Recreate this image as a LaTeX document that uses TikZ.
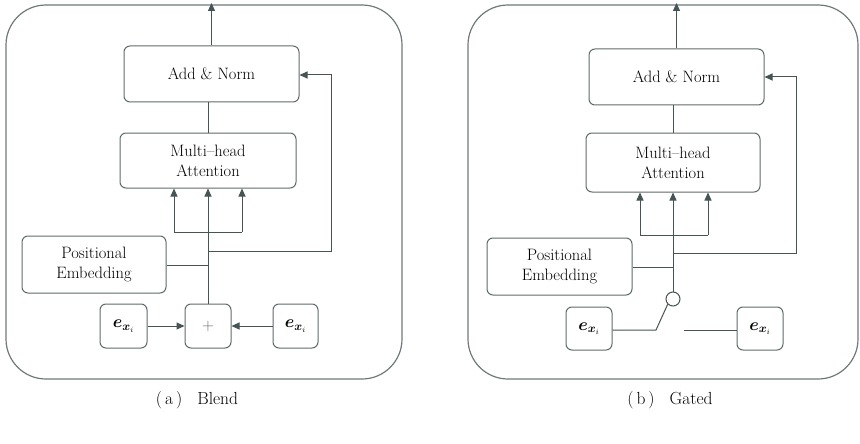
\documentclass[tikz,border=0pt]{standalone}
\usepackage{amsmath}
\usepackage{bm}
\usetikzlibrary{arrows.meta}
\definecolor{boxc}{HTML}{5E6B6B}
\definecolor{linec}{HTML}{465454}
\definecolor{outc}{HTML}{6E7A7A}
\tikzset{
  blk/.style={draw=boxc, rounded corners=6pt, line width=1pt, fill=white, align=center,
    font=\rmfamily\fontsize{16.5}{20}\selectfont, inner sep=0pt},
  conn/.style={draw=linec, line width=1pt},
  arr/.style={conn, -{Triangle[length=8pt,width=7pt]}},
  outer/.style={draw=outc, line width=1.2pt, rounded corners=40pt},
  captext/.style={font=\rmfamily\fontsize{17.5}{20}\selectfont},
  evec/.style={blk, font=\fontsize{17}{20}\selectfont},
}
\newcommand{\evx}{$\bm{e}_{\bm{x}_{i}}$}
\begin{document}
\begin{tikzpicture}[x=1pt,y=-1pt]
\useasboundingbox (0,0) rectangle (860,444);
\fill[white] (0,0) rectangle (860,444);
% ---------------- (a) Blend ----------------
\draw[outer] (6,5) rectangle (402,379);
\node[blk, minimum width=175pt, minimum height=56pt] (an1) at (211.5,74) {Add \& Norm};
\node[blk, minimum width=176pt, minimum height=55pt] (mha1) at (208,160.5) {Multi--head\\Attention};
\node[blk, minimum width=144pt, minimum height=57pt] (pe1) at (94,264.5) {Positional\\Embedding};
\node[evec, minimum width=47pt, minimum height=44pt] (el1) at (123.5,326) {\evx};
\node[blk, minimum width=46pt, minimum height=44pt, text=boxc] (plus) at (208,326) {+};
\node[evec, minimum width=45pt, minimum height=44pt] (er1) at (295.5,326) {\evx};
\coordinate (top1) at (211.5,3);
\coordinate (bl1) at (174,232);
\coordinate (br1) at (242,232);
\coordinate (rj1) at (208,251);
\coordinate (rr1) at (331,251);
\coordinate (pj1) at (208,265);
\draw[arr] (an1.north) -- (top1);
\draw[conn] (mha1.north -| 208,0) -- (an1.south -| 208,0);
\draw[arr] (plus.north) -- (mha1.south);
\draw[conn] (bl1) -- (br1);
\draw[arr] (bl1) -- (bl1 |- mha1.south);
\draw[arr] (br1) -- (br1 |- mha1.south);
\draw[arr] (rj1) -- (rr1) -- (rr1 |- 0,75) -- (an1.east |- 0,75);
\draw[conn] (pe1.east |- pj1) -- (pj1);
\draw[arr] (el1.east) -- (plus.west);
\draw[arr] (er1.west) -- (plus.east);
\node[captext] (capa) at (197,400) {(\hspace{3pt}a\hspace{3pt})\hspace{15pt}Blend};
% ---------------- (b) Gated ----------------
\draw[outer] (468,5) rectangle (858,379);
\node[blk, minimum width=175pt, minimum height=56pt] (an2) at (676.5,77) {Add \& Norm};
\node[blk, minimum width=174pt, minimum height=59pt] (mha2) at (673,162.5) {Multi--head\\Attention};
\node[blk, minimum width=145pt, minimum height=57pt] (pe2) at (559.5,266.5) {Positional\\Embedding};
\node[evec, minimum width=46pt, minimum height=43pt] (el2) at (589,328.5) {\evx};
\node[evec, minimum width=46pt, minimum height=43pt] (er2) at (760,328.5) {\evx};
\node[circle, draw=linec, line width=1pt, fill=white, minimum size=14pt, inner sep=0pt] (gate) at (673,299) {};
\coordinate (top2) at (676.5,3);
\coordinate (bl2) at (640,235);
\coordinate (br2) at (708,235);
\coordinate (rj2) at (673,253);
\coordinate (rr2) at (796,253);
\coordinate (pj2) at (673,267);
\coordinate (sw1) at (656,330);
\coordinate (sw2) at (684,330);
\draw[arr] (an2.north) -- (top2);
\draw[conn] (mha2.north -| 673,0) -- (an2.south -| 673,0);
\draw[arr] (gate.north) -- (mha2.south);
\draw[conn] (bl2) -- (br2);
\draw[arr] (bl2) -- (bl2 |- mha2.south);
\draw[arr] (br2) -- (br2 |- mha2.south);
\draw[arr] (rj2) -- (rr2) -- (rr2 |- 0,77) -- (an2.east |- 0,77);
\draw[conn] (pe2.east |- pj2) -- (pj2);
\draw[conn] (el2.east |- sw1) -- (sw1) -- (gate.south west);
\draw[conn] (sw2) -- (er2.west |- sw2);
\node[captext] (capb) at (670,400) {(\hspace{3pt}b\hspace{3pt})\hspace{15pt}Gated};
\end{tikzpicture}
\end{document}
